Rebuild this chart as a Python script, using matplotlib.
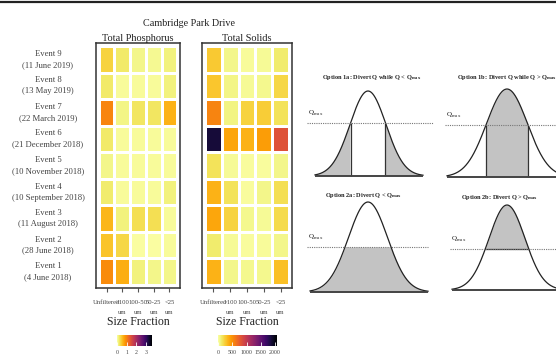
import numpy as np
import matplotlib
matplotlib.use("Agg")
import matplotlib.pyplot as plt
from matplotlib.transforms import blended_transform_factory

plt.rcParams['font.family'] = ['Liberation Serif', 'DejaVu Serif']
plt.rcParams['mathtext.fontset'] = 'custom'
plt.rcParams['mathtext.rm'] = 'Liberation Serif'
plt.rcParams['mathtext.bf'] = 'Liberation Serif:bold'

# rows top to bottom (Event 9 ... Event 1)
events = ['Event 9', 'Event 8', 'Event 7', 'Event 6', 'Event 5',
          'Event 4', 'Event 3', 'Event 2', 'Event 1']
dates = ['(11 June 2019)', '(13 May 2019)', '(22 March 2019)', '(21 December 2018)',
         '(10 November 2018)', '(10 September 2018)', '(11 August 2018)',
         '(28 June 2018)', '(4 June 2018)']
fractions = ['Unfiltered', '>100\num', '100-50\num', '50-25\num', '<25\num']

tp_values = [
    [0.38, 0.22, 0.10, 0.08, 0.15],
    [0.22, 0.05, 0.05, 0.05, 0.15],
    [0.97, 0.12, 0.25, 0.25, 0.62],
    [0.22, 0.05, 0.05, 0.05, 0.05],
    [0.10, 0.05, 0.05, 0.05, 0.05],
    [0.20, 0.05, 0.05, 0.05, 0.15],
    [0.60, 0.15, 0.30, 0.30, 0.05],
    [0.50, 0.36, 0.02, 0.02, 0.05],
    [0.92, 0.66, 0.15, 0.10, 0.10],
]
ts_values = [
    [260, 60, 30, 40, 120],
    [280, 70, 40, 50, 210],
    [560, 80, 220, 250, 160],
    [1860, 420, 360, 450, 820],
    [160, 40, 20, 20, 60],
    [360, 160, 20, 60, 170],
    [410, 220, 50, 40, 190],
    [120, 40, 20, 30, 60],
    [360, 60, 50, 50, 300],
]
tp_max = 3.6
ts_max = 2070
tp_ticks = [0, 1, 2, 3]
ts_ticks = [0, 500, 1000, 1500, 2000]

W, H = 556, 358
fig = plt.figure(figsize=(W / 100, H / 100), dpi=100)


def px_axes(x0, y0, x1, y1):
    return fig.add_axes([x0 / W, 1 - y1 / H, (x1 - x0) / W, (y1 - y0) / H])


# top rule
fig.add_artist(plt.Line2D([0, 1], [1 - 2 / H, 1 - 2 / H], color='#222222', lw=1.6))

text_col = '#444444'
fig.text(189 / W, 1 - 23 / H, 'Cambridge Park Drive', ha='center', va='center', fontsize=7.3, color='#222222')


def heatmap(box, values, vmax, title, cbox, ticks):
    ax = px_axes(*box)
    mesh = ax.pcolormesh(np.arange(6) - 0.5, np.arange(10) - 0.5, np.array(values),
                         cmap='inferno_r', vmin=0, vmax=vmax,
                         edgecolors='white', linewidth=1.0)
    ax.set_xlim(-0.68, 4.68)
    ax.set_ylim(8.62, -0.62)
    ax.set_yticks([])
    ax.set_xticks(range(5))
    ax.set_xticklabels(fractions, fontsize=4.8, color=text_col, linespacing=2.0, va='top')
    ax.tick_params(axis='x', length=3, width=0.8, color='#555555', pad=6)
    for s in ax.spines.values():
        s.set_color('#333333')
        s.set_linewidth(1.1)
    ax.set_title(title, fontsize=7.4, color='#222222', pad=1.5)
    ax.set_xlabel('Size Fraction', fontsize=8.5, color='#222222', labelpad=1)
    cax = px_axes(*cbox)
    cb = fig.colorbar(mesh, cax=cax, orientation='horizontal', ticks=ticks)
    cb.outline.set_visible(False)
    cax.tick_params(direction='in', length=3, width=0.6, color='white',
                    labelsize=4.2, labelcolor=text_col, pad=3)
    return ax


ax_tp = heatmap((96, 43, 180, 288), tp_values, tp_max, 'Total Phosphorus', (117, 335, 152, 346), tp_ticks)
ax_ts = heatmap((202, 43, 292, 288), ts_values, ts_max, 'Total Solids', (218, 335, 277, 346), ts_ticks)

tr = blended_transform_factory(fig.transFigure, ax_tp.transData)
for i in range(len(events)):
    ax_tp.text(48 / W, i, events[i] + '\n' + dates[i], transform=tr, ha='center', va='center',
               fontsize=6.2, color=text_col, linespacing=1.5)

# flow diversion diagrams
dg = px_axes(300, 60, 556, 300)
dg.set_xlim(300, 556)
dg.set_ylim(300, 60)
dg.axis('off')

fill_col = '#c3c3c3'
panels = [
    # mu, peak, base, sigma, qmax, x_left, x_right, mode, title, line_x0, line_x1, title_x, title_y
    (368, 91, 176, 18, 123, 315, 423, 'tails', 'Option 1a: Divert Q while Q < Q$_{\\mathbf{max}}$', 307, 433, 372, 78),
    (507, 89, 177, 20.5, 125, 447, 567, 'middle', 'Option 1b: Divert Q while Q > Q$_{\\mathbf{max}}$', 445, 560, 507, 77),
    (368, 202, 292, 19.5, 247, 310, 428, 'below', 'Option 2a: Divert Q < Q$_{\\mathbf{max}}$', 307, 428, 363, 195),
    (507, 205, 290, 18, 249, 452, 562, 'above', 'Option 2b: Divert Q > Q$_{\\mathbf{max}}$', 450, 560, 500, 198),
]
for mu, peak, base, sig, qmax, xl, xr, mode, title, lx0, lx1, tx, ty in panels:
    x = np.linspace(xl, xr, 300)
    y = base - (base - peak) * np.exp(-0.5 * ((x - mu) / sig) ** 2)
    z = np.sqrt(-2 * np.log((base - qmax) / (base - peak)))
    a, b = mu - z * sig, mu + z * sig
    if mode == 'tails':
        dg.fill_between(x, y, base, where=(x <= a) | (x >= b), color=fill_col, lw=0)
        dg.vlines([a, b], qmax, base, color='#333333', lw=0.9)
    elif mode == 'middle':
        dg.fill_between(x, y, base, where=(x >= a) & (x <= b), color=fill_col, lw=0)
        dg.vlines([a, b], qmax, base, color='#333333', lw=0.9)
    elif mode == 'below':
        dg.fill_between(x, np.maximum(y, qmax), base, color=fill_col, lw=0)
    else:
        dg.fill_between(x, y, qmax, where=(y <= qmax), color=fill_col, lw=0)
        dg.hlines(qmax, a, b, color='#333333', lw=0.9)
    dg.plot(x, y, color='#222222', lw=0.9)
    dg.hlines(base, xl, xr, color='#444444', lw=1.4)
    dg.hlines(qmax, lx0, lx1, color='#777777', lw=0.8, linestyles=(0, (1, 1)))
    dg.text(lx0 + 1, qmax - 5, 'Q$_{\\mathrm{max}}$', fontsize=5, ha='left', va='bottom', color='#222222')
    dg.text(tx, ty, title, fontsize=4.6, fontweight='bold', ha='center', va='center', color='#222222')

fig.savefig('out.png', dpi=100)
